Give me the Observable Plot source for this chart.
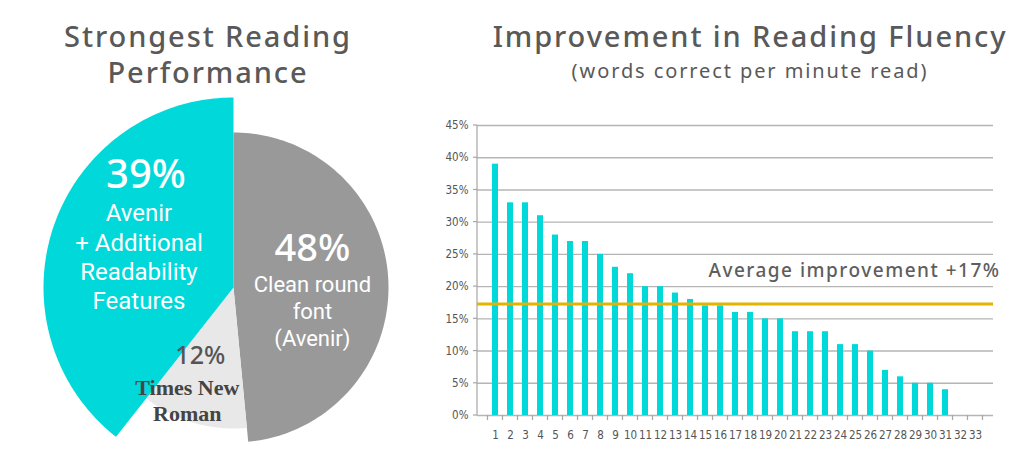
<!DOCTYPE html>
<html>
<head>
<meta charset="utf-8">
<script src="https://cdn.jsdelivr.net/npm/d3@7"></script>
<script src="https://cdn.jsdelivr.net/npm/@observablehq/plot@0.6"></script>
<style>
  html, body { margin: 0; padding: 0; background: #fff; }
  #root { position: relative; width: 1024px; height: 469px; overflow: hidden; font-family: "Noto Sans", sans-serif; }
  .title { position: absolute; text-align: center; color: #595959; font-family: "Noto Sans", sans-serif; font-weight: 500; white-space: nowrap; }
  #pie { position: absolute; left: 0; top: 90px; }
  #bars { position: absolute; left: 430px; top: 100px; }
</style>
</head>
<body>
<div id="root">
  <div class="title" id="t1" style="left:0; width:416px; top:18px; font-size:29px; line-height:36px; letter-spacing:1.9px;">Strongest Reading<br>Performance</div>
  <div class="title" id="t2" style="left:480px; width:540px; top:18px; font-size:29px; line-height:36px; letter-spacing:1.9px;">Improvement in Reading Fluency</div>
  <div class="title" id="t3" style="left:480px; width:540px; top:57px; font-size:20px; line-height:28px; font-weight:400; letter-spacing:1.9px;">(words correct per minute read)</div>
  <div id="pie"></div>
  <div id="bars"></div>
</div>
<script>
// ---------- DATA ----------
const pieLabels = ["Clean round font (Avenir)", "Times New Roman", "Avenir + Additional Readability Features"];
const pieValues = [48, 12, 39];
const piePercentText = ["48%", "12%", "39%"];
const pieNameText = ["Clean round\nfont\n(Avenir)", "Times New\nRoman", "Avenir\n+ Additional\nReadability\nFeatures"];
const pieColors = ["#999999", "#e8e8e8", "#00d8da"];

const students = d3.range(1, 34);
const improvement = [39, 33, 33, 31, 28, 27, 27, 25, 23, 22, 20, 20, 19, 18, 17, 17, 16, 16, 15, 15, 13, 13, 13, 11, 11, 10, 7, 6, 5, 5, 4, 0, 0];
const yTicks = [0, 5, 10, 15, 20, 25, 30, 35, 40, 45];
const averageImprovement = 17.3;
const averageLabel = "Average improvement +17%";

// ---------- PIE ----------
const radii = [155, 141, 190];          // drawn radius per slice (style)
const labelRadii = [80, 100, 100];
const pieGen = d3.pie().sort(null).value(d => d)(pieValues);
const slicePts = [];
pieGen.forEach((s, i) => {
  const r = radii[i];
  slicePts.push({slice: i, x: 0, y: 0});
  const n = 120;
  for (let k = 0; k <= n; k++) {
    const a = s.startAngle + (s.endAngle - s.startAngle) * k / n;
    slicePts.push({slice: i, x: r * Math.sin(a), y: r * Math.cos(a)});
  }
});
const pieLabelData = pieGen.map((s, i) => {
  const mid = (s.startAngle + s.endAngle) / 2;
  return {i, x: labelRadii[i] * Math.sin(mid), y: labelRadii[i] * Math.cos(mid), pct: piePercentText[i], name: pieNameText[i]};
});
const pctStyle = [
  {fill: "#fff", dx: -1, dy: -35, size: 38},
  {fill: "#555", dx: -5, dy: -27, size: 25},
  {fill: "#fff", dx: 7, dy: -80, size: 40}
];
const nameStyle = [
  {fill: "#fff", dx: -1, dy: 27, size: 22, font: "Roboto, sans-serif", weight: 400, lh: 1.22},
  {fill: "#444", dx: -18, dy: 16, size: 22, font: "'Liberation Serif', 'DejaVu Serif', serif", weight: 700, lh: 1.18},
  {fill: "#fff", dx: 0, dy: 1, size: 24, font: "Roboto, sans-serif", weight: 400, lh: 1.22}
];

const pie = Plot.plot({
  width: 440, height: 379,
  margin: 0,
  x: {domain: [-233, 207], axis: null},
  y: {domain: [-182, 197], axis: null},
  marks: [
    Plot.line(slicePts, {x: "x", y: "y", z: "slice", fill: d => pieColors[d.slice], stroke: "none", curve: "linear"}),
    ...pieLabelData.map(d => Plot.text([d], {x: "x", y: "y", text: "pct", dx: pctStyle[d.i].dx, dy: pctStyle[d.i].dy,
      fill: pctStyle[d.i].fill, fontSize: pctStyle[d.i].size, fontWeight: 500, fontFamily: "'Noto Sans', sans-serif"})),
    ...pieLabelData.map(d => Plot.text([d], {x: "x", y: "y", text: "name", dx: nameStyle[d.i].dx, dy: nameStyle[d.i].dy,
      fill: nameStyle[d.i].fill, fontSize: nameStyle[d.i].size, fontWeight: nameStyle[d.i].weight,
      fontFamily: nameStyle[d.i].font, lineHeight: nameStyle[d.i].lh}))
  ]
});
pie.style.background = "transparent";
document.getElementById("pie").appendChild(pie);

// ---------- BARS ----------
const barData = students.map((s, i) => ({student: s, value: improvement[i]}));
const narrow = "'DejaVu Sans Condensed', 'DejaVu Sans', sans-serif";

// Excel-style frame: left axis line and category boundary ticks, placed with Plot's scales
function excelAxes(index, scales, values, dims) {
  const x = scales.x, y = scales.y;
  const step = x.step ? x.step() : x.bandwidth();
  const bw = x.bandwidth ? x.bandwidth() : 0;
  const g = d3.create("svg:g").attr("stroke", "#a6a6a6").attr("stroke-width", 1.2);
  const left = dims.marginLeft;
  const y0 = y(0), yTop = y(yTicks[yTicks.length - 1]);
  g.append("line").attr("x1", left).attr("x2", left).attr("y1", y0).attr("y2", yTop);
  const bounds = students.map(s => x(s) + bw / 2 - step / 2);
  bounds.push(x(students[students.length - 1]) + bw / 2 + step / 2);
  bounds.forEach(bx => g.append("line").attr("x1", bx).attr("x2", bx).attr("y1", y0).attr("y2", y0 + 5));
  yTicks.forEach(t => g.append("line").attr("x1", left - 4).attr("x2", left).attr("y1", y(t)).attr("y2", y(t)));
  return g.node();
}

const bars = Plot.plot({
  width: 594, height: 350,
  marginLeft: 47, marginTop: 25, marginBottom: 35, marginRight: 31,
  style: {fontFamily: narrow, fontSize: "11px", color: "#555", background: "transparent"},
  x: {domain: students, padding: 0.58, label: null},
  y: {domain: [0, 45], label: null},
  marks: [
    Plot.gridY(yTicks, {stroke: "#b5b5b5", strokeOpacity: 1, strokeWidth: 1.4}),
    excelAxes,
    Plot.axisY({ticks: yTicks, tickFormat: d => d + "%", tickSize: 0, tickPadding: 9, label: null, fontSize: 11.5}),
    Plot.axisX({tickSize: 0, tickPadding: 15, label: null, fontSize: 11.5}),
    Plot.barY(barData, {x: "student", y: "value", fill: "#00d8da"}),
    Plot.ruleY([averageImprovement], {stroke: "#e2b400", strokeWidth: 3}),
    Plot.text([averageLabel], {y: () => averageImprovement, frameAnchor: "right", textAnchor: "end", dx: 7, dy: -33,
      fill: "#5e5e5e", fontSize: 19, fontWeight: 500, fontFamily: "'Noto Sans', sans-serif", text: d => d})
  ]
});
bars.querySelectorAll("text").forEach(t => {
  if (t.textContent.trim() === averageLabel) t.style.letterSpacing = "1.5px";
});
document.getElementById("bars").appendChild(bars);
</script>
</body>
</html>
